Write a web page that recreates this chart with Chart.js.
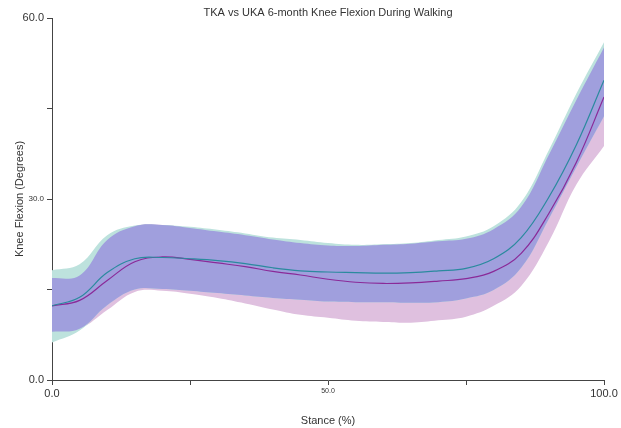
<!DOCTYPE html>
<html>
<head>
<meta charset="utf-8">
<script src="https://cdn.jsdelivr.net/npm/chart.js@4/dist/chart.umd.min.js"></script>
<style>
  html, body { margin: 0; padding: 0; background: #ffffff; }
  #wrap { width: 621px; height: 428px; }
</style>
</head>
<body>
<div id="wrap"><canvas id="chart" width="621" height="428"></canvas></div>
<script>
// Stance phase (% of stance)
const stance = [0, 5, 10, 15, 20, 25, 30, 35, 40, 45, 50, 55, 60, 65, 70, 75, 80, 85, 90, 95, 100];

// TKA knee flexion: mean and band limits (degrees)
const tkaMean  = [12.3, 13.7, 17.8, 20.1, 20.3, 20.1, 19.8, 19.3, 18.6, 18.1, 17.9, 17.8, 17.7, 17.8, 18.1, 18.5, 20.1, 23.6, 30.3, 39.0, 49.7];
const tkaUpper = [18.2, 19.2, 24.0, 25.6, 25.7, 25.4, 24.9, 24.3, 23.6, 23.2, 22.7, 22.4, 22.5, 22.7, 23.2, 23.8, 25.5, 29.5, 38.1, 47.5, 56.0];
const tkaLower = [6.2, 8.2, 12.4, 15.0, 15.1, 14.8, 14.4, 14.0, 13.6, 13.3, 13.0, 12.9, 12.9, 12.8, 12.9, 13.5, 14.9, 18.6, 26.7, 35.3, 43.7];

// UKA knee flexion: mean and band limits (degrees)
const ukaMean  = [12.3, 13.2, 16.5, 19.6, 20.4, 20.0, 19.4, 18.8, 18.0, 17.4, 16.7, 16.2, 16.0, 16.1, 16.4, 16.8, 18.0, 21.0, 27.6, 36.1, 46.9];
const ukaUpper = [16.9, 17.3, 23.2, 25.5, 25.7, 25.2, 24.6, 24.0, 23.3, 22.7, 22.3, 22.2, 22.4, 22.6, 23.0, 23.4, 25.0, 28.7, 37.3, 46.4, 55.1];
const ukaLower = [8.0, 8.5, 11.6, 14.6, 14.8, 14.3, 13.6, 12.7, 11.7, 10.8, 10.3, 9.8, 9.6, 9.5, 9.9, 10.5, 12.3, 15.6, 22.9, 32.4, 38.8];

// Axis tick values
const xTicks = [0, 25, 50, 75, 100];
const yTicks = [0, 15, 30, 45, 60];
const xLabelled = [0, 50, 100];
const yLabelled = [0, 30, 60];

const chartTitle = 'TKA vs UKA 6-month Knee Flexion During Walking';

// Region where both bands overlap
const bothUpper = stance.map((_, i) => Math.min(tkaUpper[i], ukaUpper[i]));
const bothLower = stance.map((_, i) => Math.max(tkaLower[i], ukaLower[i]));

const pts = arr => stance.map((s, i) => ({ x: s, y: arr[i] }));

const FONT = '"Liberation Sans", Arial, sans-serif';
const AXIS = '#444444';
const TENSION = 0.4;

const band = (data, fill, color) => ({
  data: pts(data),
  borderWidth: 0,
  borderColor: 'rgba(0,0,0,0)',
  pointRadius: 0,
  fill: fill,
  backgroundColor: color,
  tension: TENSION
});

const titlePlugin = {
  id: 'plotTitle',
  afterDraw(chart) {
    const { ctx, chartArea } = chart;
    ctx.save();
    ctx.font = '11px ' + FONT;
    ctx.fillStyle = '#333333';
    ctx.textAlign = 'center';
    ctx.textBaseline = 'middle';
    ctx.fillText(chartTitle, (chartArea.left + chartArea.right) / 2, 13);
    ctx.restore();
  }
};

new Chart(document.getElementById('chart'), {
  type: 'line',
  data: {
    datasets: [
      // overlap band drawn on top of the two individual bands
      band(bothUpper, '+1', '#a09fdd'),
      band(bothLower, false, 'rgba(0,0,0,0)'),
      band(tkaUpper, '+1', '#bde2dd'),
      band(tkaLower, false, 'rgba(0,0,0,0)'),
      band(ukaUpper, '+1', '#dfc0df'),
      band(ukaLower, false, 'rgba(0,0,0,0)'),
      {
        label: 'TKA',
        data: pts(tkaMean),
        borderColor: '#2a8a9e',
        borderWidth: 1.2,
        pointRadius: 0,
        fill: false,
        tension: TENSION
      },
      {
        label: 'UKA',
        data: pts(ukaMean),
        borderColor: '#8a2a98',
        borderWidth: 1.2,
        pointRadius: 0,
        fill: false,
        tension: TENSION
      }
    ]
  },
  options: {
    responsive: false,
    animation: false,
    devicePixelRatio: 1,
    layout: { padding: { top: 18, right: 17, left: 0, bottom: 0 } },
    plugins: {
      legend: { display: false },
      tooltip: { enabled: false },
      title: { display: false },
      filler: { drawTime: 'beforeDatasetsDraw' }
    },
    scales: {
      x: {
        type: 'linear',
        min: 0,
        max: 100,
        afterBuildTicks(scale) { scale.ticks = xTicks.map(v => ({ value: v })); },
        afterFit(scale) { scale.height = 48; },
        border: { display: true, color: AXIS, width: 1 },
        grid: { drawOnChartArea: false, drawTicks: true, tickLength: 5, tickColor: AXIS, tickWidth: 1 },
        ticks: {
          autoSkip: false,
          maxRotation: 0,
          padding: 2,
          color: '#333333',
          callback: v => xLabelled.includes(v) ? v.toFixed(1) : '',
          font: c => ({ family: FONT, size: (c.tick && c.tick.value === 50) ? 7 : 11 })
        },
        title: {
          display: true,
          text: 'Stance (%)',
          color: '#333333',
          font: { family: FONT, size: 11 },
          padding: { top: 4, bottom: 0 }
        }
      },
      y: {
        type: 'linear',
        min: 0,
        max: 60,
        afterBuildTicks(scale) { scale.ticks = yTicks.map(v => ({ value: v })); },
        afterFit(scale) { scale.width = 52; },
        border: { display: true, color: AXIS, width: 1 },
        grid: { drawOnChartArea: false, drawTicks: true, tickLength: 5, tickColor: AXIS, tickWidth: 1 },
        ticks: {
          autoSkip: false,
          padding: 3,
          color: '#333333',
          callback: v => yLabelled.includes(v) ? v.toFixed(1) : '',
          font: c => ({ family: FONT, size: (c.tick && c.tick.value === 30) ? 8 : 11 })
        },
        title: {
          display: true,
          text: 'Knee Flexion (Degrees)',
          color: '#333333',
          font: { family: FONT, size: 11 },
          padding: { top: 13, bottom: 0 }
        }
      }
    }
  },
  plugins: [titlePlugin]
});
</script>
</body>
</html>
